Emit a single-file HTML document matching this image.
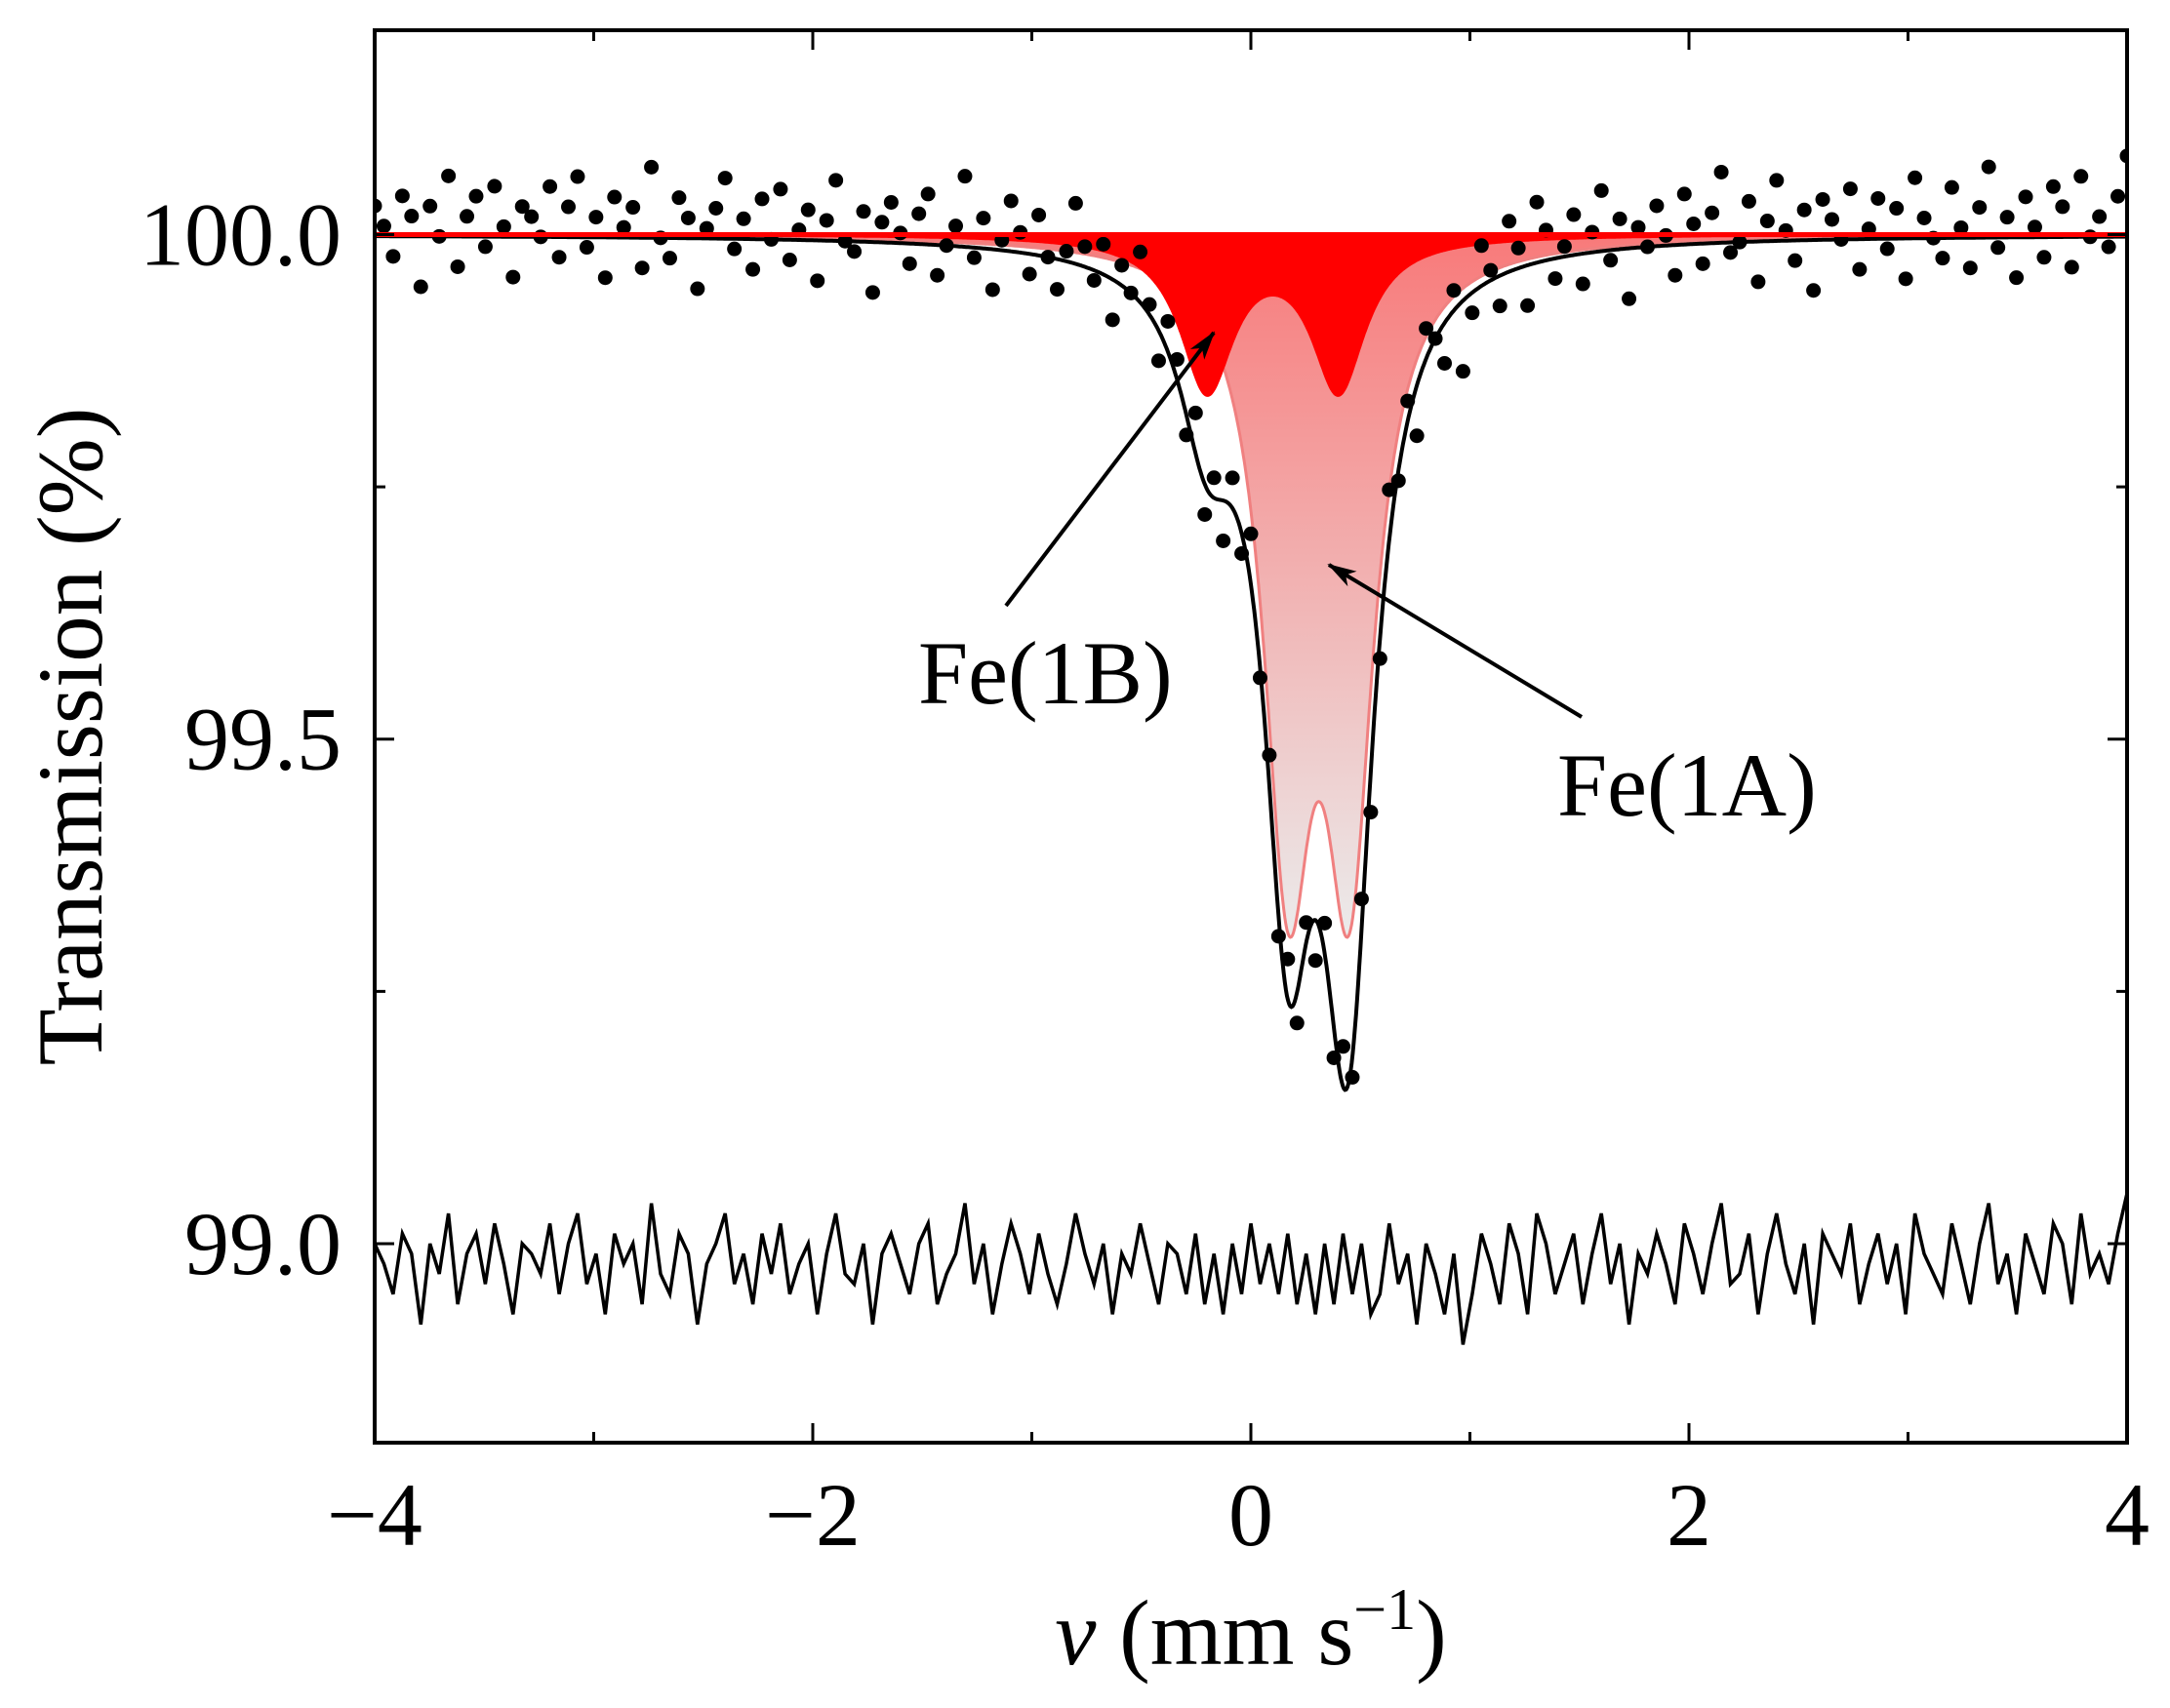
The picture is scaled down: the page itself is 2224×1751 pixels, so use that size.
<!DOCTYPE html>
<html><head><meta charset="utf-8"><style>
html,body{margin:0;padding:0;background:#fff}
svg{display:block}
text{font-family:"Liberation Serif",serif;fill:#000}
</style></head><body>
<svg id="chart" width="2224" height="1751" viewBox="0 0 2224 1751" xmlns="http://www.w3.org/2000/svg">
<defs>
<linearGradient id="pinkGrad" x1="0" y1="0" x2="0" y2="1">
<stop offset="0" stop-color="#f87a7a"/><stop offset="1" stop-color="#ebebeb"/>
</linearGradient>
<clipPath id="plotClip"><rect x="384" y="31" width="1796" height="1448"/></clipPath>
<marker id="arrowHead" markerWidth="30" markerHeight="18" refX="28" refY="9" orient="auto" markerUnits="userSpaceOnUse" viewBox="0 0 30 18"><path d="M0,0 L30,9 L0,18 L8,9 z" fill="#000"/></marker>
</defs>
<g id="plot" clip-path="url(#plotClip)"></g>
<g id="axes"></g>
<text x="941" y="721" font-size="92">Fe(1B)</text>
<text x="1596" y="836" font-size="92">Fe(1A)</text>
<line x1="1031" y1="621" x2="1244" y2="341" stroke="#000" stroke-width="4" marker-end="url(#arrowHead)"/>
<line x1="1621" y1="735" x2="1362" y2="579" stroke="#000" stroke-width="4" marker-end="url(#arrowHead)"/>
<text transform="translate(104,755) rotate(-90)" text-anchor="middle" font-size="95">Transmission (%)</text>
<text x="1282" y="1706" text-anchor="middle" font-size="95"><tspan font-style="italic">v</tspan> (mm s<tspan dy="-36" font-size="60">−1</tspan><tspan dy="36">)</tspan></text>
</svg>
<script>
// Fit components (doublets): centers, depths (%), half-widths
const fe1aCenters = [0.17, 0.45];
const fe1aDepths = [0.583, 0.583];
const fe1aWidths = [0.135, 0.135];
const fe1bCenters = [-0.2, 0.4];
const fe1bDepths = [0.151, 0.151];
const fe1bWidths = [0.15, 0.15];
// residuals in 0.01 % units, velocity -4..4 step 0.04
const residuals = [3,1,-2,4,2,-5,3,0,6,-3,2,4,-1,5,1,-4,3,2,0,5,
-2,3,6,-1,2,-4,4,1,3,-3,7,0,-2,4,2,-5,1,3,6,-1,
2,-3,4,0,5,-2,1,3,-4,2,6,0,-1,3,-5,2,4,1,-2,3,
5,-3,0,2,7,-1,3,-4,1,5,2,-2,4,0,-3,1,6,2,-1,3,
-4,2,0,5,1,-3,3,2,-2,4,-3,2,-4,3,-2,5,-1,3,-2,4,
-3,2,-4,3,-3,4,-2,3,-4,-2,5,-1,2,-5,3,0,-4,2,-7,-2,
4,1,-3,5,2,-4,6,3,-2,1,4,-3,2,6,-1,3,-5,2,0,4,
1,-3,5,2,-2,3,7,-1,0,4,-4,2,6,1,-2,3,-5,4,2,0,
5,-3,1,4,-1,3,-4,6,2,0,-2,5,1,-3,3,7,-1,2,-4,4,
1,-2,5,3,-3,6,0,2,-1,4,8];
const xTicks = [-4, -2, 0, 2, 4];
const xTickLabels = ["\u22124", "\u22122", "0", "2", "4"];
const yTicks = [99.0, 99.5, 100.0];
const yTickLabels = ["99.0", "99.5", "100.0"];
const residualOffset = 98.97;

const X0 = 384, X1 = 2180, Y0 = 31, Y1 = 1479;
const xMin = -4, xMax = 4, yMin = 98.8028, yMax = 100.2025;
const sx = v => X0 + (v - xMin) / (xMax - xMin) * (X1 - X0);
const sy = v => Y1 - (v - yMin) / (yMax - yMin) * (Y1 - Y0);
const NS = "http://www.w3.org/2000/svg";
const plot = document.getElementById('plot');
const axes = document.getElementById('axes');
function mk(tag, attrs, parent) { const e = document.createElementNS(NS, tag); for (const k in attrs) e.setAttribute(k, attrs[k]); parent.appendChild(e); return e; }
const lor = (x, c, d, g) => d / (1 + ((x - c) / g) ** 2);
const comp = (x, cs, ds, gs) => cs.reduce((s, c, i) => s + lor(x, c, ds[i], gs[i]), 0);
const fitA = x => comp(x, fe1aCenters, fe1aDepths, fe1aWidths);
const fitB = x => comp(x, fe1bCenters, fe1bDepths, fe1bWidths);
const total = x => 100 - fitA(x) - fitB(x);

function areaPath(f) {
  let d = `M${sx(xMin)},${sy(100)}`;
  for (let i = 0; i <= 1600; i++) { const x = xMin + i * 0.005; d += ` L${sx(x).toFixed(1)},${sy(100 - f(x)).toFixed(1)}`; }
  return d + ` L${sx(xMax)},${sy(100)} Z`;
}
let el;
el = mk('path', {d: areaPath(fitA), fill: 'url(#pinkGrad)', stroke: '#f08080', 'stroke-width': 3}, plot);


el = mk('path', {d: areaPath(fitB), fill: '#ff0000', stroke: '#ff0000', 'stroke-width': 2}, plot);



const vel = residuals.map((r, i) => xMin + i * (xMax - xMin) / (residuals.length - 1));
vel.forEach((x, i) => {
  const c = mk('circle', {cx: sx(x), cy: sy(total(x) + residuals[i] / 100), r: 7.5, fill: '#000'}, plot);
  
  
});
let d = '';
for (let i = 0; i <= 1600; i++) { const x = xMin + i * 0.005; d += (i ? ' L' : 'M') + sx(x).toFixed(1) + ',' + sy(total(x)).toFixed(1); }
el = mk('path', {d, fill: 'none', stroke: '#000', 'stroke-width': 4}, plot);


el = mk('line', {x1: X0, x2: X1, y1: sy(100), y2: sy(100), stroke: '#ff0000', 'stroke-width': 5}, plot);


d = vel.map((x, i) => (i ? 'L' : 'M') + sx(x).toFixed(1) + ',' + sy(residualOffset + residuals[i] / 100).toFixed(1)).join(' ');
el = mk('path', {d, fill: 'none', stroke: '#000', 'stroke-width': 3.5}, plot);



el = mk('rect', {x: X0, y: Y0, width: X1 - X0, height: Y1 - Y0, fill: 'none', stroke: '#000', 'stroke-width': 4}, axes);


for (let v = -4; v <= 4; v++) {
  const len = v % 2 === 0 ? 20 : 11;
  mk('line', {x1: sx(v), x2: sx(v), y1: Y1, y2: Y1 - len, stroke: '#000', 'stroke-width': 3}, axes);
  mk('line', {x1: sx(v), x2: sx(v), y1: Y0, y2: Y0 + len, stroke: '#000', 'stroke-width': 3}, axes);
}
for (let k = 0; k < 5; k++) {
  const v = 99.0 + k * 0.25, len = k % 2 === 0 ? 20 : 11;
  mk('line', {x1: X0, x2: X0 + len, y1: sy(v), y2: sy(v), stroke: '#000', 'stroke-width': 3}, axes);
  mk('line', {x1: X1, x2: X1 - len, y1: sy(v), y2: sy(v), stroke: '#000', 'stroke-width': 3}, axes);
}
xTicks.forEach((v, i) => {
  const t = mk('text', {x: sx(v), y: 1584, 'text-anchor': 'middle', 'font-size': 92}, axes);
  t.textContent = xTickLabels[i];
  
  
});
yTicks.forEach((v, i) => {
  const t = mk('text', {x: 350, y: sy(v) + 31, 'text-anchor': 'end', 'font-size': 92}, axes);
  t.textContent = yTickLabels[i];
  
  
});
</script>
</body></html>
